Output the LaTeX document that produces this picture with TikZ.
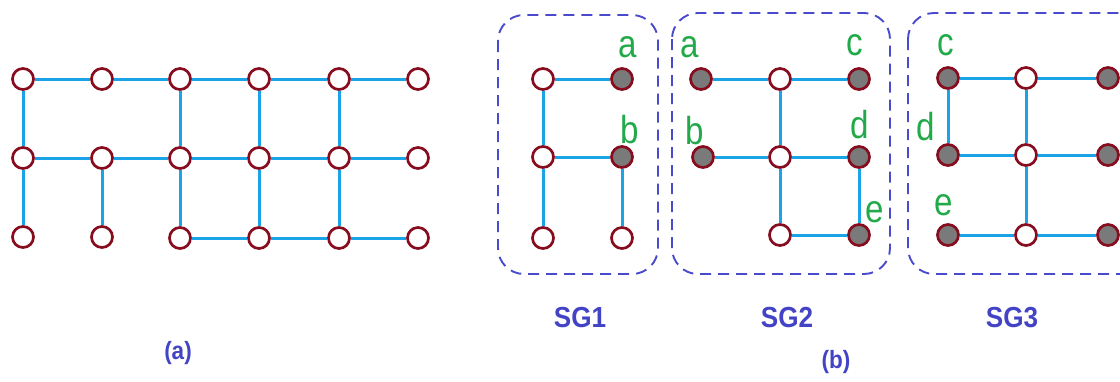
\documentclass[tikz,border=0pt]{standalone}
\usepackage{fontspec}
\usepackage{tikz}
\newfontfamily\lblfont[FakeStretch=0.85]{Liberation Sans}
\newfontfamily\sgfont[FakeStretch=0.9]{Liberation Sans}
\definecolor{lnkblue}{HTML}{1AA3E6}
\definecolor{rimred}{HTML}{860C1E}
\definecolor{dotgray}{HTML}{7A7A7A}
\definecolor{boxblue}{HTML}{4A4ACC}
\definecolor{txtblue}{HTML}{4343C6}
\definecolor{lblgreen}{HTML}{22AA4A}
\tikzset{
  opn/.style={circle,draw=rimred,fill=white,line width=2.7pt,minimum size=21pt,inner sep=0pt},
  fil/.style={opn,fill=dotgray},
  lnk/.style={draw=lnkblue,line width=3pt},
  grp/.style={draw=boxblue,line width=1.9pt,dash pattern=on 11pt off 7pt,rounded corners=26pt},
  lbl/.style={text=lblgreen,anchor=base,inner sep=0pt,font=\lblfont\fontsize{39}{41}\selectfont},
  sgtitle/.style={text=txtblue,inner sep=0pt,font=\sgfont\bfseries\fontsize{29}{31}\selectfont},
  subcap/.style={text=txtblue,inner sep=0pt,font=\sgfont\bfseries\fontsize{25}{27}\selectfont}
}

\begin{document}
\begin{tikzpicture}[x=1pt,y=-1pt]
  \clip (0,0) rectangle (1120,381);
  % (a) 整个网格
  \node[opn] (p11) at (23,79) {};  \node[opn] (p12) at (102,79) {}; \node[opn] (p13) at (180,79) {};
  \node[opn] (p14) at (259,79) {}; \node[opn] (p15) at (339,79) {}; \node[opn] (p16) at (418,79) {};
  \node[opn] (p21) at (23,158) {};  \node[opn] (p22) at (102,158) {}; \node[opn] (p23) at (180,158) {};
  \node[opn] (p24) at (259,158) {}; \node[opn] (p25) at (339,158) {}; \node[opn] (p26) at (418,158) {};
  \node[opn] (p31) at (23,237) {};  \node[opn] (p32) at (102,237) {}; \node[opn] (p33) at (180,238) {};
  \node[opn] (p34) at (259,238) {}; \node[opn] (p35) at (339,238) {}; \node[opn] (p36) at (418,238) {};
  \draw[lnk] (p11) -- (p12) -- (p13) -- (p14) -- (p15) -- (p16);
  \draw[lnk] (p21) -- (p22) -- (p23) -- (p24) -- (p25) -- (p26);
  \draw[lnk] (p33) -- (p34) -- (p35) -- (p36);
  \draw[lnk] (p11) -- (p21) -- (p31);
  \draw[lnk] (p22) -- (p32);
  \draw[lnk] (p13) -- (p23) -- (p33);
  \draw[lnk] (p14) -- (p24) -- (p34);
  \draw[lnk] (p15) -- (p25) -- (p35);
  \node[subcap] (capa) at (178,353) {(a)};

  % (b) 子图 SG1
  \draw[grp] (498,15) rectangle (658,274);
  \node[opn] (s1o1) at (543,79) {};  \node[fil] (s1a) at (622,79) {};
  \node[opn] (s1o2) at (543,157) {}; \node[fil] (s1b) at (622,157) {};
  \node[opn] (s1o3) at (543,238) {}; \node[opn] (s1o4) at (622,238) {};
  \draw[lnk] (s1o1) -- (s1a);
  \draw[lnk] (s1o2) -- (s1b);
  \draw[lnk] (s1o1) -- (s1o2) -- (s1o3);
  \draw[lnk] (s1b) -- (s1o4);
  \node[lbl] (l1a) at (628,57) {a};
  \node[lbl] (l1b) at (630,143) {b};
  \node[sgtitle] (sg1) at (580,318) {SG1};

  % 子图 SG2
  \draw[grp] (672,13) rectangle (890,274);
  \node[fil] (s2a) at (701,79) {};  \node[opn] (s2o1) at (780,79) {};  \node[fil] (s2c) at (859,79) {};
  \node[fil] (s2b) at (703,157) {}; \node[opn] (s2o2) at (780,157) {}; \node[fil] (s2d) at (859,157) {};
  \node[opn] (s2o3) at (780,235) {}; \node[fil] (s2e) at (859,235) {};
  \draw[lnk] (s2a) -- (s2o1) -- (s2c);
  \draw[lnk] (s2b) -- (s2o2) -- (s2d);
  \draw[lnk] (s2o1) -- (s2o2) -- (s2o3);
  \draw[lnk] (s2d) -- (s2e);
  \draw[lnk] (s2o3) -- (s2e);
  \node[lbl] (l2a) at (690,57) {a};
  \node[lbl] (l2b) at (695,144) {b};
  \node[lbl] (l2c) at (855,55) {c};
  \node[lbl] (l2d) at (860,138) {d};
  \node[lbl] (l2e) at (875,222) {e};
  \node[sgtitle] (sg2) at (787,318) {SG2};
  \node[subcap] (capb) at (836,362) {(b)};

  % 子图 SG3（右边被裁掉）
  \draw[grp] (908,13) rectangle (1160,274);
  \node[fil] (s3c) at (948,78) {};  \node[opn] (s3o1) at (1026,78) {};  \node[fil] (s3f1) at (1108,78) {};
  \node[fil] (s3d) at (948,155) {}; \node[opn] (s3o2) at (1026,155) {}; \node[fil] (s3f2) at (1108,155) {};
  \node[fil] (s3e) at (948,235) {}; \node[opn] (s3o3) at (1026,235) {}; \node[fil] (s3f3) at (1108,235) {};
  \draw[lnk] (s3c) -- (s3o1) -- (s3f1);
  \draw[lnk] (s3d) -- (s3o2) -- (s3f2);
  \draw[lnk] (s3e) -- (s3o3) -- (s3f3);
  \draw[lnk] (s3c) -- (s3d);
  \draw[lnk] (s3o1) -- (s3o2) -- (s3o3);
  \node[lbl] (l3c) at (946,55) {c};
  \node[lbl] (l3d) at (926,140) {d};
  \node[lbl] (l3e) at (944,215) {e};
  \node[sgtitle] (sg3) at (1012,318) {SG3};
\end{tikzpicture}
\end{document}
